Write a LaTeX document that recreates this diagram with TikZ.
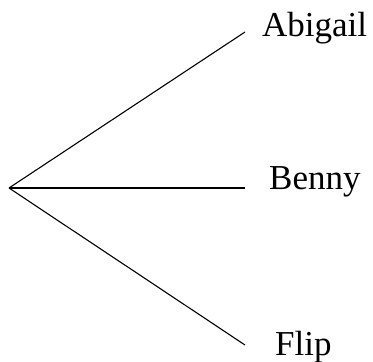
\documentclass[tikz,border=0pt]{standalone}
\usepackage{fontspec}
\setmainfont{Liberation Serif}
\begin{document}
\begin{tikzpicture}[x=1pt,y=-1pt,
  branch/.style={line width=1.1pt},
  leaf/.style={anchor=base west,inner sep=0pt,font=\fontsize{35}{42}\selectfont}]
\useasboundingbox (0,0) rectangle (373,362);
\coordinate (root) at (9,188);
\coordinate (ea) at (245,32);
\coordinate (eb) at (245,188);
\coordinate (ef) at (245,345);
\node[leaf] (abigail) at (262,36) {Abigail};
\node[leaf] (benny) at (269,189) {Benny};
\node[leaf] (flip) at (275,355) {Flip};
\draw[branch] (root) -- (ea);
\draw[branch] (root) -- (eb);
\draw[branch] (root) -- (ef);
\end{tikzpicture}
\end{document}
